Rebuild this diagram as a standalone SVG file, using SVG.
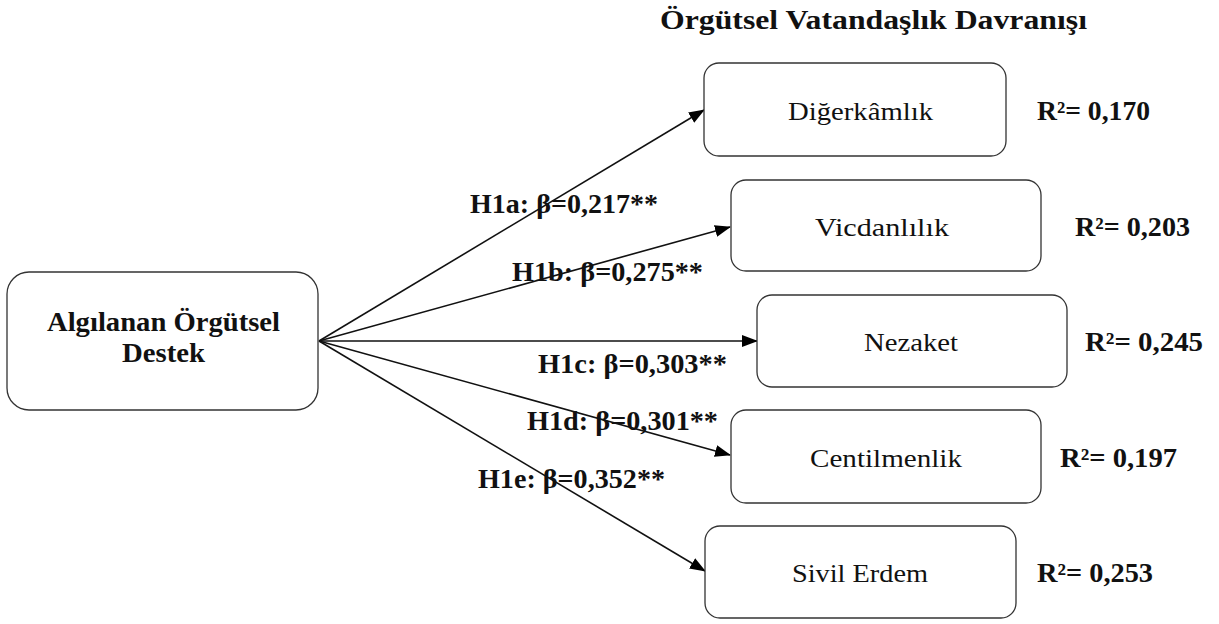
<svg xmlns="http://www.w3.org/2000/svg" width="1219" height="624" viewBox="0 0 1219 624">
<defs>
<style>
.box{fill:#fff;stroke:#333;stroke-width:1.3}
.t{font-family:"Liberation Serif","Times New Roman",serif;font-size:26px;fill:#111}
.b{font-family:"Liberation Serif","Times New Roman",serif;font-size:27px;font-weight:bold;fill:#111}
.c{stroke:#111;stroke-width:1.6;fill:none;marker-end:url(#ah)}
</style>
<marker id="ah" markerWidth="16" markerHeight="12" refX="15" refY="6" orient="auto" markerUnits="userSpaceOnUse">
<path d="M0,0 L16,6 L0,12 z" fill="#000"/>
</marker>
</defs>
<rect width="1219" height="624" fill="#fff"/>
<text class="b" x="660" y="29" textLength="427" lengthAdjust="spacingAndGlyphs" font-size="29">Örgütsel Vatandaşlık Davranışı</text>
<g id="connectors">
<line class="c" x1="319" y1="341" x2="704" y2="110"/>
<line class="c" x1="319" y1="341" x2="730" y2="227"/>
<line class="c" x1="319" y1="341" x2="757" y2="341"/>
<line class="c" x1="319" y1="341" x2="730" y2="455"/>
<line class="c" x1="319" y1="341" x2="705" y2="571"/>
<text class="b" x="470" y="213" textLength="188" lengthAdjust="spacingAndGlyphs">H1a: β=0,217**</text>
<text class="b" x="512" y="281" textLength="191" lengthAdjust="spacingAndGlyphs">H1b: β=0,275**</text>
<text class="b" x="538" y="373" textLength="189" lengthAdjust="spacingAndGlyphs">H1c: β=0,303**</text>
<text class="b" x="527" y="430" textLength="191" lengthAdjust="spacingAndGlyphs">H1d: β=0,301**</text>
<text class="b" x="478" y="488" textLength="187" lengthAdjust="spacingAndGlyphs">H1e: β=0,352**</text>
</g>
<g id="aos">
<rect class="box" x="7" y="272" width="311" height="138" rx="22"/>
<text class="b" x="47" y="331" textLength="233" lengthAdjust="spacingAndGlyphs" font-size="23">Algılanan Örgütsel</text>
<text class="b" x="122" y="362" textLength="83" lengthAdjust="spacingAndGlyphs" font-size="23">Destek</text>
</g>
<g id="digerkamlik">
<rect class="box" x="704" y="63" width="302" height="93" rx="15"/>
<text class="t" x="788" y="120" textLength="145" lengthAdjust="spacingAndGlyphs">Diğerkâmlık</text>
<text class="b" x="1037" y="120" textLength="113" lengthAdjust="spacingAndGlyphs">R²= 0,170</text>
</g>
<g id="vicdanlilik">
<rect class="box" x="731" y="180" width="310" height="91" rx="15"/>
<text class="t" x="815" y="236" textLength="134" lengthAdjust="spacingAndGlyphs">Vicdanlılık</text>
<text class="b" x="1075" y="236" textLength="115" lengthAdjust="spacingAndGlyphs">R²= 0,203</text>
</g>
<g id="nezaket">
<rect class="box" x="757" y="295" width="310" height="92" rx="15"/>
<text class="t" x="864" y="351" textLength="94" lengthAdjust="spacingAndGlyphs">Nezaket</text>
<text class="b" x="1085" y="351" textLength="118" lengthAdjust="spacingAndGlyphs">R²= 0,245</text>
</g>
<g id="centilmenlik">
<rect class="box" x="731" y="410" width="310" height="93" rx="15"/>
<text class="t" x="810" y="467" textLength="152" lengthAdjust="spacingAndGlyphs">Centilmenlik</text>
<text class="b" x="1060" y="467" textLength="117" lengthAdjust="spacingAndGlyphs">R²= 0,197</text>
</g>
<g id="sivilerdem">
<rect class="box" x="705" y="526" width="311" height="92" rx="15"/>
<text class="t" x="792" y="582" textLength="136" lengthAdjust="spacingAndGlyphs">Sivil Erdem</text>
<text class="b" x="1037" y="582" textLength="116" lengthAdjust="spacingAndGlyphs">R²= 0,253</text>
</g>
</svg>
